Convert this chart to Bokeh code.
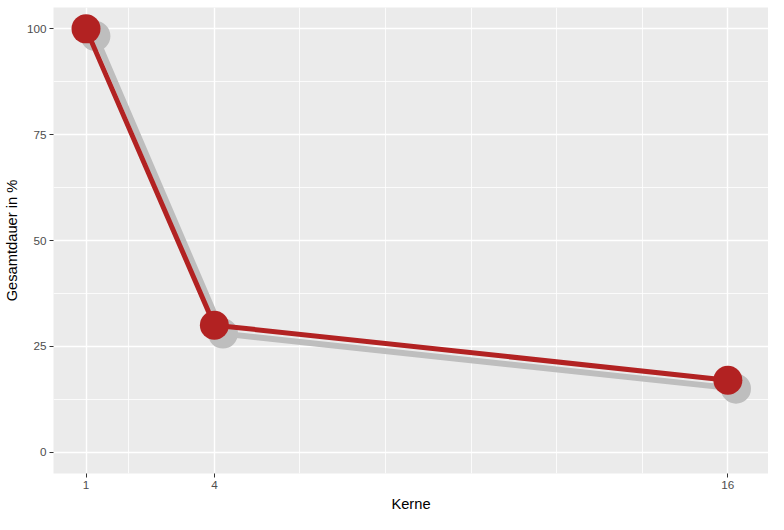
from bokeh.plotting import figure
from bokeh.models import FixedTicker, Range1d
from bokeh.embed import file_html
from bokeh.resources import INLINE

# data
kerne = [1, 4, 16]
dauer = [100, 30, 17]
# drop-shadow copy (slightly shifted)
shadow_kerne = [1.22, 4.2, 16.19]
shadow_dauer = [98.3, 28, 15]
x_ticks = [1, 4, 16]
x_minor = [2, 6, 8, 10, 12, 14]
y_ticks = [0, 25, 50, 75, 100]
y_minor = [12.5, 37.5, 62.5, 87.5]

FONT = "Liberation Sans"

p = figure(width=768, height=514, output_backend="svg", toolbar_location=None,
           x_range=Range1d(0.24, 16.95), y_range=Range1d(-5.05, 105.05),
           min_border_left=53, min_border_right=0, min_border_top=7, min_border_bottom=37)
p.background_fill_color = "#EBEBEB"
p.border_fill_color = "white"
p.outline_line_color = None

p.xaxis.ticker = FixedTicker(ticks=x_ticks, minor_ticks=x_minor)
p.yaxis.ticker = FixedTicker(ticks=y_ticks, minor_ticks=y_minor)
p.xgrid.ticker = FixedTicker(ticks=x_ticks, minor_ticks=x_minor)
p.ygrid.ticker = FixedTicker(ticks=y_ticks, minor_ticks=y_minor)
for g in (p.xgrid, p.ygrid):
    g.grid_line_color = "white"
    g.grid_line_width = 1.4
    g.minor_grid_line_color = "white"
    g.minor_grid_line_width = 0.8

for ax in (p.xaxis, p.yaxis):
    ax.axis_line_color = None
    ax.major_tick_line_color = "#333333"
    ax.major_tick_in = 0
    ax.major_tick_out = 4
    ax.minor_tick_line_color = None
    ax.major_label_text_font = FONT
    ax.major_label_text_font_size = "11.7px"
    ax.major_label_text_color = "#4D4D4D"
    ax.major_label_standoff = 3
    ax.axis_label_text_font = FONT
    ax.axis_label_text_font_size = "14.7px"
    ax.axis_label_text_font_style = "normal"
    ax.axis_label_text_color = "black"
    ax.axis_label_standoff = 4

p.xaxis.axis_label = "Kerne"
p.yaxis.axis_label = "Gesamtdauer in %"

# shadow
p.line(shadow_kerne, shadow_dauer, line_color="#BEBEBE", line_width=6)
p.scatter(shadow_kerne, shadow_dauer, size=30, fill_color="#BEBEBE", line_color=None)
# main
p.line(kerne, dauer, line_color="#B22222", line_width=5)
p.scatter(kerne, dauer, size=29, fill_color="#B22222", line_color=None)

open("out.html", "w").write(file_html(p, INLINE))
